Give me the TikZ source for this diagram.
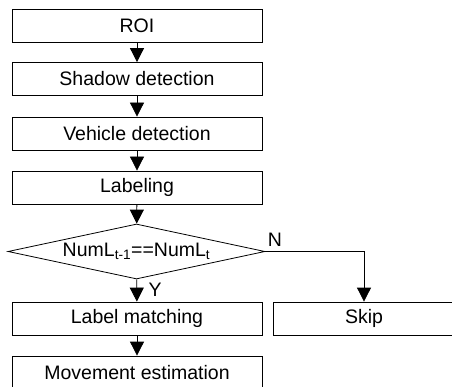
\documentclass[tikz,border=0pt]{standalone}
\usepackage{fontspec}
\setmainfont{Liberation Sans}
\usetikzlibrary{shapes.geometric,arrows.meta}

\begin{document}
\begin{tikzpicture}[x=1pt,y=-1pt,line width=.8pt,
        >={Triangle[width=14pt,length=14pt]},
        font=\fontsize{19.5}{22}\selectfont,
        box/.style={draw,rectangle,minimum width=250pt,minimum height=33pt,inner sep=0pt},
        decision/.style={draw,diamond,aspect=4.67,minimum width=257pt,minimum height=55pt,inner sep=0pt}]
        \useasboundingbox (0,0) rectangle (452,387);

        \node [box] (roi) at (137,25.5) {ROI};
        \node [box] (shadow) at (137,79) {Shadow detection};
        \node [box] (vehicle) at (137,133.5) {Vehicle detection};
        \node [box] (labeling) at (137,187.5) {Labeling};
        \node [decision] (cond) at (136.5,251.5) {NumL\textsubscript{t-1}==NumL\textsubscript{t}};
        \node [box] (match) at (137,318.5) {Label matching};
        \node [box,minimum width=182pt] (skip) at (364,318.5) {Skip};
        \node [box] (move) at (137,372.5) {Movement estimation};

        \draw [->] (roi) -- (shadow);
        \draw [->] (shadow) -- (vehicle);
        \draw [->] (vehicle) -- (labeling);
        \draw [->] (labeling) -- (cond);
        \draw [->] (cond) -- (match) node [pos=.45,right,xshift=8pt] (yes) {Y};
        \draw [->] (cond.east) -| (skip.north) node [pos=0,above right,inner sep=2pt,yshift=3pt] (no) {N};
        \draw [->] (match) -- (move);
    \end{tikzpicture}
\end{document}
